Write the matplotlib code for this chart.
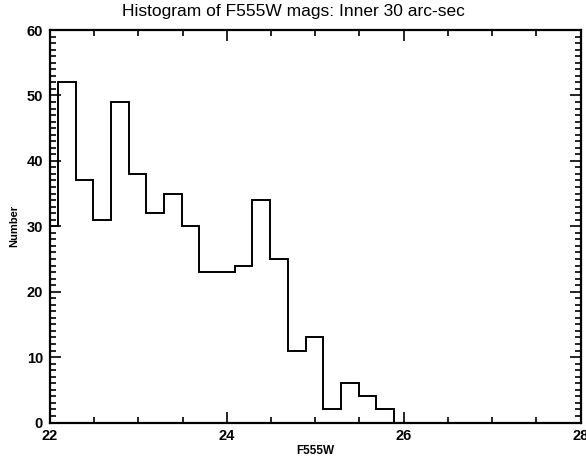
"""
Histogram of F555W magnitudes (inner 30 arc-sec), IDL-style step plot.
"""

import numpy as np
import matplotlib
matplotlib.use("Agg")
import matplotlib.pyplot as plt
from matplotlib.ticker import MultipleLocator

# Bin edges (mag) and counts
bin_start = 21.89
bin_width = 0.2
counts = [30, 52, 37, 31, 49, 38, 32, 35, 30, 23, 23, 24, 34, 25, 11, 13, 2, 6, 4, 2]
edges = bin_start + bin_width * np.arange(len(counts) + 1)

x_ticks = [22, 24, 26, 28]
y_ticks = [0, 10, 20, 30, 40, 50, 60]

plt.rcParams["font.family"] = ["Liberation Sans", "DejaVu Sans"]

fig = plt.figure(figsize=(5.86, 4.61), dpi=100)
ax = fig.add_axes([50 / 586, 38.5 / 461, 530.5 / 586, 392.5 / 461])

ax.stairs(counts, edges, baseline=0, color="black", linewidth=1.4)

ax.set_xlim(22, 28)
ax.set_ylim(0, 60)
ax.set_xticks(x_ticks)
ax.set_yticks(y_ticks)
ax.xaxis.set_minor_locator(MultipleLocator(0.5))
ax.yaxis.set_minor_locator(MultipleLocator(1))

ax.tick_params(which="both", direction="in", top=True, right=True, width=1.2, color="black")
ax.tick_params(which="major", length=8, labelsize=10.5, pad=5)
ax.tick_params(which="minor", length=4)
for lab in ax.get_xticklabels() + ax.get_yticklabels():
    lab.set_fontweight("bold")

for side in ax.spines.values():
    side.set_linewidth(1.6)

# IDL centres the title on the whole window, not the plot box
fig.text(0.5, 1 - 4 / 461, "Histogram of F555W mags: Inner 30 arc-sec",
         fontsize=12.5, ha="center", va="top")
ax.set_xlabel("F555W", fontsize=8.5, fontweight="bold", labelpad=1)
ax.set_ylabel("Number", fontsize=8, fontweight="bold", labelpad=5)

fig.savefig("out.png", dpi=100)
plt.close(fig)
